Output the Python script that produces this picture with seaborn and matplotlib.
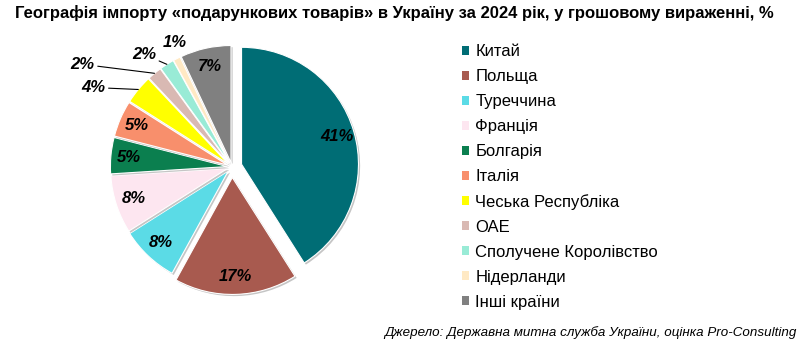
import numpy as np
import matplotlib
matplotlib.use('Agg')
import matplotlib.pyplot as plt
import matplotlib.patheffects as pe
from matplotlib.patches import Patch
import seaborn as sns

# data
countries = ['Китай', 'Польща', 'Туреччина', 'Франція', 'Болгарія', 'Італія',
             'Чеська Республіка', 'ОАЕ', 'Сполучене Королівство', 'Нідерланди',
             'Інші країни']
shares = [41, 17, 8, 8, 5, 5, 4, 2, 2, 1, 7]
colors = ['#006D75', '#A85A4F', '#5BDBE6', '#FDE6F0', '#0B7F4F', '#F88F6C',
          '#FFFF00', '#D9B9B3', '#99EBD6', '#FFE9C4', '#808080']
explode = [0.085, 0.09, 0.045, 0.04, 0.04, 0.04, 0.04, 0.04, 0.04, 0.04, 0.04]

TITLE = 'Географія імпорту «подарункових товарів» в Україну за 2024 рік, у грошовому вираженні, %'
SOURCE = 'Джерело: Державна митна служба України, оцінка Pro-Consulting'

# labels placed outside the pie: index -> (dx, dy) in pixels, draw leader line
outside = {6: (-33, 2, True), 7: (-60, 9, True), 8: (-11, 10, True), 9: (-2, 16, False)}

sns.set_style('white')
plt.rcParams['font.family'] = ['Liberation Sans', 'DejaVu Sans']
plt.rcParams['text.color'] = 'black'

fig = plt.figure(figsize=(8.12, 3.57), dpi=100)
ax = fig.add_axes([(232 - 152) / 812, (190 - 152) / 357, 304 / 812, 304 / 357])

wedges, _ = ax.pie(shares, colors=colors, explode=explode, startangle=90,
                   counterclock=False, radius=1,
                   wedgeprops=dict(edgecolor='white', linewidth=0.8))
for w in wedges:
    w.set_path_effects([pe.SimplePatchShadow(offset=(1.2, -1.2), shadow_rgbFace='#7f7f7f', alpha=0.45),
                        pe.Normal()])

for i, w in enumerate(wedges):
    mid = np.deg2rad((w.theta1 + w.theta2) / 2)
    cx, cy = w.center
    txt = '{}%'.format(shares[i])
    if i in outside:
        dx, dy, line = outside[i]
        anchor = (cx + 1.0 * np.cos(mid), cy + 1.0 * np.sin(mid))
        ax.annotate(txt, xy=anchor, xytext=(dx, dy), textcoords='offset pixels',
                    ha='right' if line else 'center', va='center',
                    fontsize=12, fontweight='bold', fontstyle='italic',
                    arrowprops=dict(arrowstyle='-', color='black', lw=0.8,
                                    shrinkA=0, shrinkB=0) if line else None)
    else:
        ax.text(cx + 0.845 * np.cos(mid), cy + 0.845 * np.sin(mid), txt,
                ha='center', va='center', fontsize=12, fontweight='bold',
                fontstyle='italic', color='black')

ax.set_xlim(-1.3, 1.3)
ax.set_ylim(-1.3, 1.3)
ax.set_aspect('equal')
ax.axis('off')

handles = [Patch(facecolor=c, edgecolor='none') for c in colors]
fig.legend(handles, countries, loc='upper left', bbox_to_anchor=(462 / 812, 1 - 44 / 357),
           frameon=False, fontsize=12, handlelength=0.45, handleheight=0.45,
           handletextpad=0.35, labelspacing=0.6, borderaxespad=0, borderpad=0)

fig.text(15 / 812, 1 - 13 / 357, TITLE, ha='left', va='center',
         fontsize=12, fontweight='bold')
fig.text(797 / 812, 1 - 333 / 357, SOURCE, ha='right', va='center',
         fontsize=9.6, fontstyle='italic')

fig.savefig('out.png', dpi=100)
